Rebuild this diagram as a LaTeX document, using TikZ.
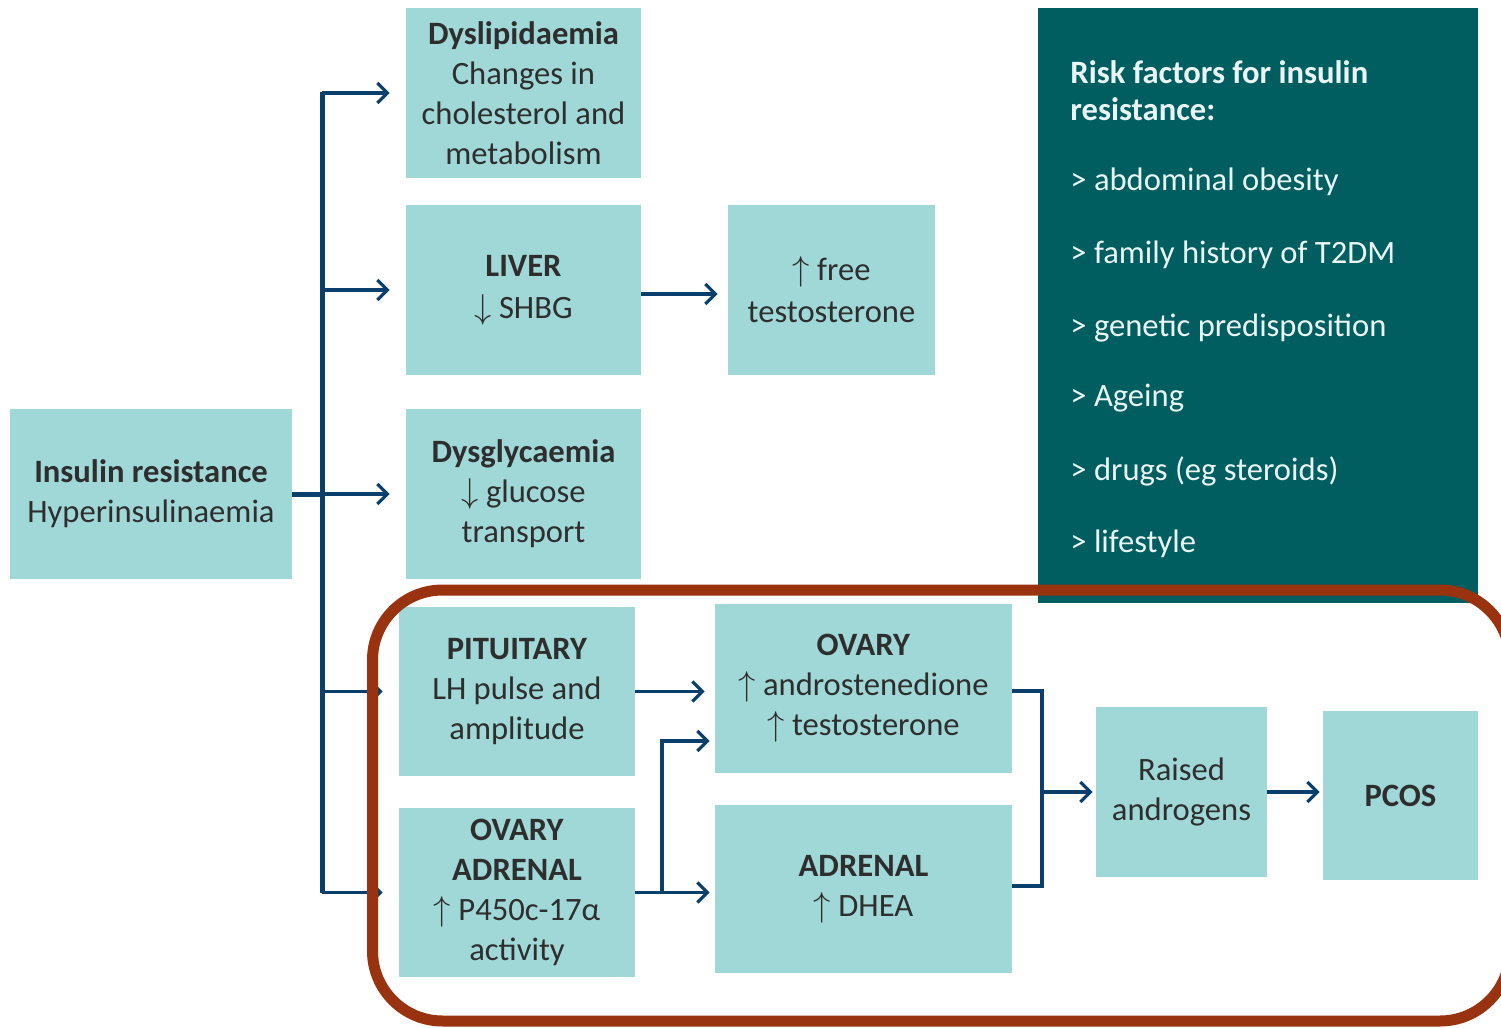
\documentclass[tikz,border=0pt]{standalone}
\usepackage{fontspec}
\setmainfont{Carlito}
\usetikzlibrary{arrows.meta,calc}
\definecolor{boxfill}{HTML}{9FD8D6}
\definecolor{riskfill}{HTML}{005E60}
\definecolor{arrowcol}{HTML}{0B3F6B}
\definecolor{redline}{HTML}{98320F}
\definecolor{txt}{HTML}{2E2E2E}
\definecolor{risktxt}{HTML}{EAF6F5}
\begin{document}
\begin{tikzpicture}[x=0.5pt,y=-0.5pt,
  box/.style={fill=boxfill,inner sep=0pt,align=center,text=txt,
    font=\fontsize{16.3}{20}\selectfont},
  risk/.style={inner sep=0pt,align=left,text=risktxt,anchor=west,
    font=\fontsize{16.3}{18.5}\selectfont},
  link/.style={draw=arrowcol,line width=1.6pt},
  thick link/.style={draw=arrowcol,line width=2.5pt},
  arr/.style={link,-{Straight Barb[length=5pt,width=10pt,line width=1.6pt]}}]
\useasboundingbox (0,0) rectangle (1501,1028);
\clip (0,0) rectangle (1501,1028);

% boxes
\node[box,minimum width=141pt,minimum height=85pt] (ins) at (151,494)
  {\textbf{Insulin resistance}\\Hyperinsulinaemia};
\node[box,minimum width=117.5pt,minimum height=85pt] (dys) at (523.5,93)
  {\textbf{Dyslipidaemia}\\Changes in\\cholesterol and\\metabolism};
\node[box,minimum width=117.5pt,minimum height=85pt] (liver) at (523.5,290)
  {\textbf{LIVER}\\[1pt]$\downarrow$ SHBG};
\node[box,minimum width=103.5pt,minimum height=85pt] (free) at (831.5,290)
  {$\uparrow$ free\\[1pt]testosterone};
\node[box,minimum width=117.5pt,minimum height=85pt] (gly) at (523.5,494)
  {\textbf{Dysglycaemia}\\$\downarrow$ glucose\\transport};
\node[box,minimum width=118pt,minimum height=84.5pt] (pit) at (517,691.5)
  {\textbf{PITUITARY}\\LH pulse and\\amplitude};
\node[box,minimum width=118pt,minimum height=84.5pt] (ovad) at (517,892.5)
  {\textbf{OVARY}\\\textbf{ADRENAL}\\$\uparrow$ P450c-17α\\activity};
\node[box,minimum width=148.5pt,minimum height=84.5pt] (ovary) at (863.5,688.5)
  {\textbf{OVARY}\\$\uparrow$ androstenedione\\$\uparrow$ testosterone};
\node[box,minimum width=148.5pt,minimum height=84pt] (adrenal) at (863.5,889)
  {\textbf{ADRENAL}\\$\uparrow$ DHEA};
\node[box,minimum width=85.5pt,minimum height=85pt] (raised) at (1181.5,792)
  {Raised\\androgens};
\node[box,minimum width=77.5pt,minimum height=84.5pt] (pcos) at (1400.5,795.5)
  {\textbf{PCOS}};

% risk factor panel
\node[fill=riskfill,inner sep=0pt,minimum width=220pt,minimum height=297.5pt] (riskbox) at (1258,305.5) {};
\node[risk,anchor=north west] (rhead) at (1070,60) {\textbf{Risk factors for insulin}\\\textbf{resistance:}};
\node[risk] (r1) at (1070,182) {> abdominal obesity};
\node[risk] (r2) at (1070,255) {> family history of T2DM};
\node[risk] (r3) at (1070,328) {> genetic predisposition};
\node[risk] (r4) at (1070,398) {> Ageing};
\node[risk] (r5) at (1070,471) {> drugs (eg steroids)};
\node[risk] (r6) at (1070,544) {> lifestyle};

% trunk
\coordinate (tr) at (322,0);
\draw[thick link] (ins.east) -- (ins.east -| tr);
\draw[thick link] ($(tr |- dys.west)+(0,-1)$) -- (tr |- ovad.west);
\foreach \n in {dys,liver,gly,pit,ovad}{
  \draw[arr,shorten >=8pt] (tr |- \n.west) -- (\n.west);
}

% liver -> free
\draw[arr,shorten >=5pt] ($(liver.east)+(0,4)$) -- ($(liver.east -| free.west)+(0,4)$);
% pituitary -> ovary
\draw[arr,shorten >=5pt] (pit.east) -- (pit.east -| ovary.west);
% ovary/adrenal split
\coordinate (sp) at (662,0);
\draw[arr,shorten >=2.5pt] (ovad.east) -- (ovad.east -| adrenal.west);
\draw[arr,shorten >=2.5pt] (sp |- ovad.east) |- ($(ovary.west)+(0,52.5)$);
% bracket
\coordinate (br) at (1042,0);
\draw[link,line width=2pt] ($(ovary.east)+(0,2)$) -- ($(br |- ovary.east)+(0,2)$) -- ($(br |- adrenal.east)+(0,-3)$) -- ($(adrenal.east)+(0,-3)$);
\draw[arr,shorten >=1.5pt] (br |- raised.west) -- (raised.west);
% raised -> pcos
\draw[arr,shorten >=1.5pt] (raised.east) -- (raised.east -| pcos.west);

% red outline
\draw[redline,line width=5.5pt,rounded corners=35pt] (372.5,590) rectangle (1510,1021);
\end{tikzpicture}
\end{document}
